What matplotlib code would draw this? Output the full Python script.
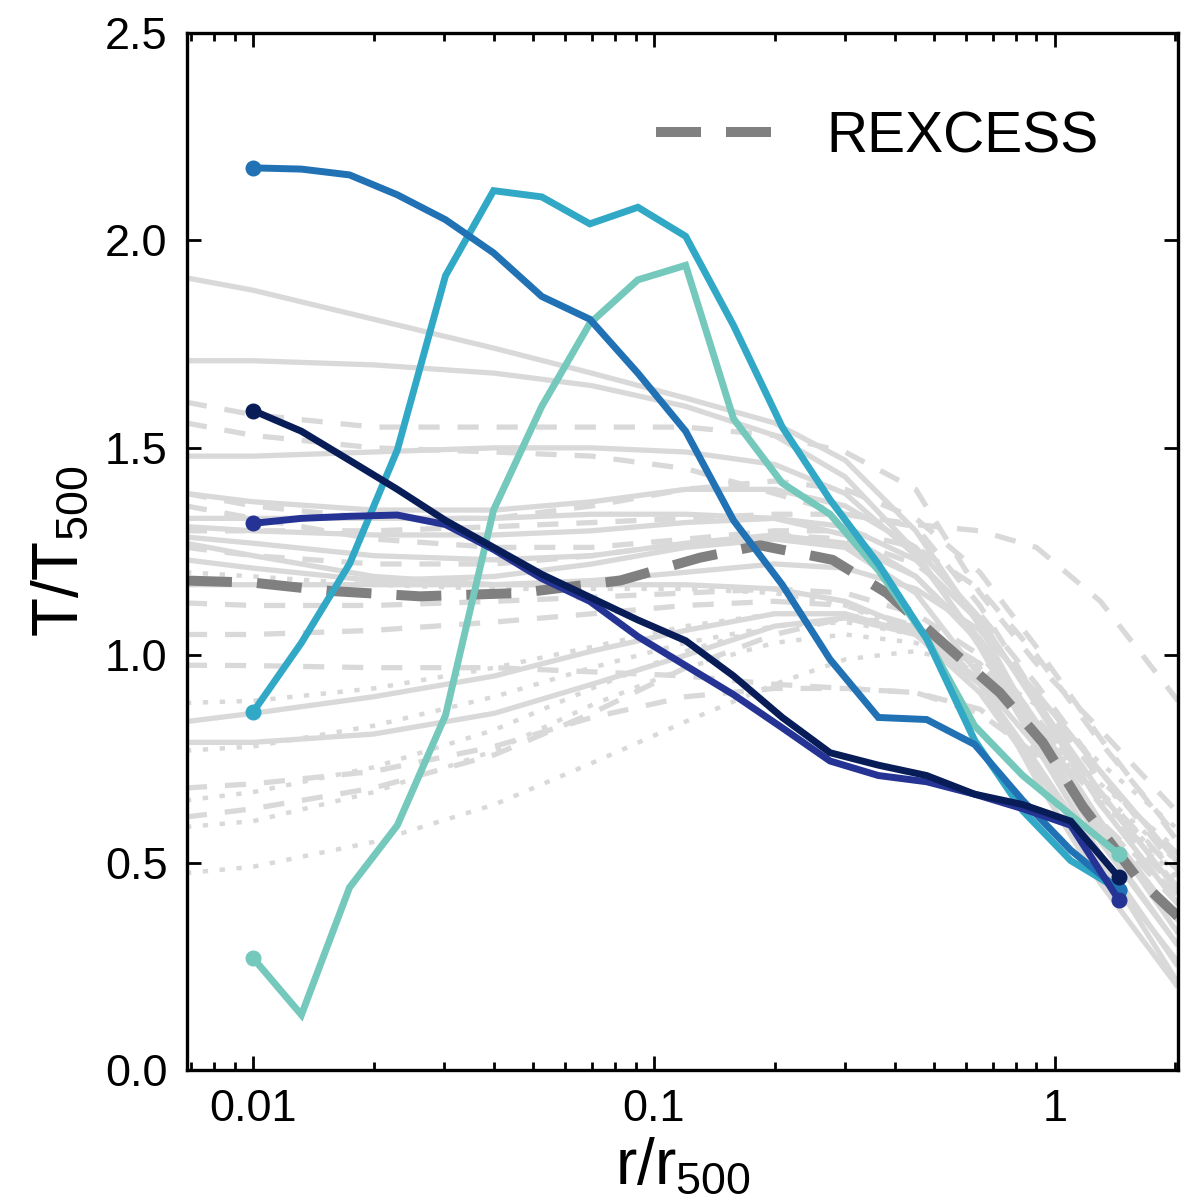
import numpy as np
import matplotlib
matplotlib.use('Agg')
import matplotlib.pyplot as plt
from matplotlib.ticker import FixedLocator, FixedFormatter, LogLocator, NullFormatter

plt.rcParams['font.family'] = ['Liberation Sans', 'DejaVu Sans']
plt.rcParams['mathtext.fontset'] = 'custom'
plt.rcParams['mathtext.rm'] = 'Liberation Sans'
plt.rcParams['mathtext.it'] = 'Liberation Sans'

# radial bins of the simulated clusters (r/r500)
r_sim = [0.01, 0.0132, 0.0174, 0.0229, 0.0302, 0.0398, 0.0525, 0.0692, 0.0912,
         0.120, 0.158, 0.209, 0.275, 0.363, 0.479, 0.631, 0.832, 1.096, 1.445]

T_teal = [0.27, 0.133, 0.44, 0.59, 0.855, 1.35, 1.60, 1.80, 1.905, 1.94,
          1.57, 1.415, 1.34, 1.205, 1.04, 0.83, 0.71, 0.615, 0.52]
T_cyan = [0.863, 1.03, 1.22, 1.495, 1.915, 2.12, 2.105, 2.04, 2.08, 2.01,
          1.795, 1.55, 1.375, 1.22, 1.04, 0.795, 0.625, 0.505, 0.435]
T_blue = [2.175, 2.172, 2.158, 2.11, 2.05, 1.97, 1.865, 1.81, 1.68, 1.54,
          1.325, 1.17, 0.99, 0.85, 0.845, 0.785, 0.65, 0.53, 0.435]
T_indigo = [1.318, 1.33, 1.335, 1.338, 1.315, 1.255, 1.185, 1.13, 1.045, 0.975,
            0.905, 0.825, 0.745, 0.71, 0.695, 0.665, 0.63, 0.59, 0.41]
T_navy = [1.59, 1.54, 1.47, 1.40, 1.325, 1.26, 1.195, 1.14, 1.085, 1.035,
          0.95, 0.85, 0.765, 0.735, 0.71, 0.665, 0.64, 0.60, 0.465]

# REXCESS mean profile
r_rex = [0.00684, 0.01, 0.0156, 0.0261, 0.0463, 0.0823, 0.130, 0.184, 0.279,
         0.381, 0.570, 0.729, 0.933, 1.175, 1.60, 2.03]
T_rex = [1.18, 1.175, 1.155, 1.142, 1.15, 1.18, 1.235, 1.265, 1.23,
         1.15, 1.0, 0.91, 0.79, 0.635, 0.465, 0.37]

# individual observed profiles (gray)
r_obs = [0.0068, 0.01, 0.02, 0.04, 0.07, 0.12, 0.2, 0.3, 0.45, 0.65, 0.9, 1.3, 2.03]

obs_solid = [
    [1.91, 1.88, 1.81, 1.74, 1.68, 1.62, 1.56, 1.47, 1.30, 1.07, 0.82, 0.56, 0.30],
    [1.71, 1.71, 1.70, 1.68, 1.65, 1.60, 1.53, 1.43, 1.25, 1.02, 0.78, 0.52, 0.25],
    [1.48, 1.48, 1.49, 1.50, 1.50, 1.49, 1.46, 1.39, 1.24, 1.03, 0.80, 0.55, 0.30],
    [1.39, 1.37, 1.35, 1.35, 1.37, 1.40, 1.40, 1.36, 1.26, 1.09, 0.88, 0.64, 0.40],
    [1.33, 1.33, 1.33, 1.33, 1.34, 1.34, 1.33, 1.29, 1.19, 1.03, 0.83, 0.60, 0.36],
    [1.31, 1.30, 1.29, 1.29, 1.30, 1.32, 1.33, 1.31, 1.23, 1.08, 0.89, 0.67, 0.43],
    [1.285, 1.27, 1.24, 1.23, 1.24, 1.27, 1.29, 1.27, 1.19, 1.04, 0.84, 0.60, 0.33],
    [1.27, 1.24, 1.19, 1.17, 1.18, 1.20, 1.22, 1.21, 1.16, 1.06, 0.91, 0.72, 0.50],
    [1.23, 1.21, 1.18, 1.19, 1.22, 1.26, 1.28, 1.26, 1.15, 0.95, 0.70, 0.45, 0.20],
    [1.17, 1.17, 1.17, 1.17, 1.17, 1.17, 1.16, 1.13, 1.06, 0.94, 0.78, 0.58, 0.36],
    [0.84, 0.86, 0.90, 0.95, 1.01, 1.06, 1.10, 1.10, 1.05, 0.91, 0.72, 0.50, 0.26],
    [0.79, 0.79, 0.81, 0.86, 0.93, 1.00, 1.07, 1.09, 1.05, 0.93, 0.74, 0.51, 0.21],
]
obs_dashed = [
    [1.56, 1.53, 1.50, 1.49, 1.48, 1.45, 1.39, 1.34, 1.315, 1.30, 1.26, 1.13, 0.89],
    [1.61, 1.58, 1.55, 1.55, 1.55, 1.55, 1.53, 1.49, 1.40, 1.15, 0.98, 0.82, 0.62],
    [1.39, 1.36, 1.33, 1.33, 1.36, 1.40, 1.42, 1.40, 1.33, 1.20, 1.02, 0.80, 0.55],
    [1.36, 1.33, 1.28, 1.26, 1.26, 1.28, 1.30, 1.30, 1.26, 1.16, 1.00, 0.79, 0.56],
    [1.26, 1.24, 1.22, 1.22, 1.24, 1.27, 1.29, 1.28, 1.22, 1.10, 0.93, 0.72, 0.48],
    [1.126, 1.12, 1.12, 1.13, 1.14, 1.15, 1.16, 1.15, 1.10, 1.00, 0.85, 0.66, 0.44],
    [1.05, 1.05, 1.06, 1.08, 1.10, 1.12, 1.13, 1.12, 1.07, 0.98, 0.84, 0.67, 0.47],
    [0.976, 0.975, 0.97, 0.97, 0.96, 0.95, 0.93, 0.92, 0.91, 0.87, 0.77, 0.60, 0.40],
    [0.68, 0.69, 0.72, 0.78, 0.85, 0.90, 0.92, 0.92, 0.91, 0.86, 0.76, 0.60, 0.42],
    [0.61, 0.63, 0.68, 0.76, 0.86, 0.97, 1.05, 1.09, 1.07, 0.98, 0.83, 0.64, 0.43],
    [1.30, 1.30, 1.30, 1.31, 1.32, 1.33, 1.34, 1.34, 1.31, 1.12, 0.90, 0.70, 0.52],
]
obs_dotted = [
    [0.885, 0.89, 0.92, 0.97, 1.02, 1.07, 1.10, 1.10, 1.06, 0.97, 0.83, 0.66, 0.47],
    [0.77, 0.78, 0.83, 0.90, 0.97, 1.03, 1.07, 1.08, 1.05, 0.96, 0.82, 0.65, 0.46],
    [0.65, 0.67, 0.73, 0.82, 0.92, 1.01, 1.07, 1.09, 1.06, 0.97, 0.84, 0.67, 0.50],
    [0.586, 0.60, 0.67, 0.77, 0.88, 0.97, 1.03, 1.05, 1.03, 0.96, 0.84, 0.69, 0.53],
    [0.475, 0.49, 0.55, 0.64, 0.74, 0.84, 0.93, 0.99, 1.01, 0.97, 0.88, 0.74, 0.58],
    [1.20, 1.19, 1.17, 1.16, 1.16, 1.16, 1.15, 1.12, 1.05, 0.95, 0.82, 0.66, 0.48],
]

gray = '#d9d9d9'
sim_cols = ['#74c8bc', '#31a9c6', '#2171b5', '#253494', '#081d58']
sim_T = [T_teal, T_cyan, T_blue, T_indigo, T_navy]

fig = plt.figure(figsize=(11.94, 12.02), dpi=100)
ax = fig.add_axes([0.1566, 0.1098, 0.83, 0.8627])

for T in obs_solid:
    ax.plot(r_obs, T, color=gray, lw=3.8, solid_capstyle='butt', zorder=1)
for T in obs_dashed:
    ax.plot(r_obs, T, color=gray, lw=3.8, dashes=(4, 3.4), zorder=1)
for T in obs_dotted:
    ax.plot(r_obs, T, color=gray, lw=3.2, dashes=(1.2, 2.6), zorder=1)

ax.plot(r_rex, T_rex, color='#808080', lw=7.2, dashes=(4.5, 2.5), label='REXCESS', zorder=2)

for T, c in zip(sim_T, sim_cols):
    ax.plot(r_sim, T, color=c, lw=5, marker='o', ms=10.5, markevery=[0, len(T) - 1],
            solid_joinstyle='miter', zorder=3)

ax.set_xscale('log')
ax.set_xlim(0.00684, 2.03)
ax.set_ylim(0, 2.5)

ax.xaxis.set_major_locator(FixedLocator([0.01, 0.1, 1]))
ax.xaxis.set_major_formatter(FixedFormatter(['0.01', '0.1', '1']))
ax.xaxis.set_minor_locator(LogLocator(base=10, subs=np.arange(2, 10)))
ax.xaxis.set_minor_formatter(NullFormatter())
ax.set_yticks([0.0, 0.5, 1.0, 1.5, 2.0, 2.5])
ax.set_yticklabels(['0.0', '0.5', '1.0', '1.5', '2.0', '2.5'])

ax.tick_params(which='both', direction='in', top=True, right=True, labelsize=32.5, width=2)
ax.tick_params(which='major', length=10, pad=14)
ax.tick_params(which='minor', length=6)
for s in ax.spines.values():
    s.set_linewidth(2.4)

ax.set_xlabel(r'$\mathregular{r/r_{500}}$', fontsize=46, labelpad=4)
ax.set_ylabel(r'$\mathregular{T/T_{500}}$', fontsize=46, labelpad=10)

ax.legend(loc='upper right', frameon=False, fontsize=41, handlelength=2.1,
          handletextpad=0.9, bbox_to_anchor=(0.972, 0.975))

fig.savefig('out.png', dpi=100)
